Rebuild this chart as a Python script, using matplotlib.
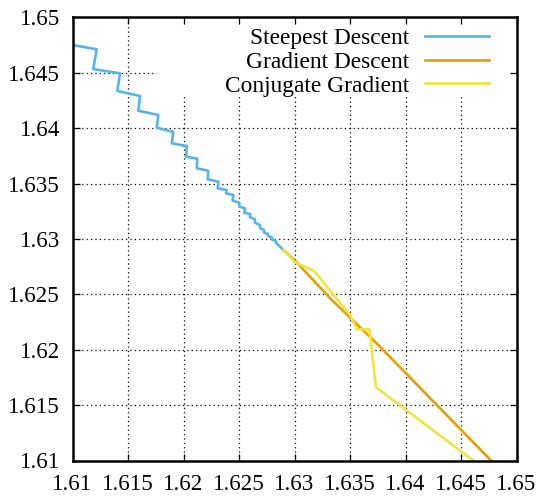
import numpy as np
import matplotlib
matplotlib.use("Agg")
import matplotlib.pyplot as plt
from matplotlib.patches import Rectangle

plt.rcParams['font.family'] = ['Liberation Serif', 'DejaVu Serif']

# tick values and labels (both axes share them)
ticks = [1.61, 1.615, 1.62, 1.625, 1.63, 1.635, 1.64, 1.645, 1.65]
tick_labels = ["1.61", "1.615", "1.62", "1.625", "1.63", "1.635", "1.64", "1.645", "1.65"]

# steepest descent path
sd_x = [1.6100, 1.61218, 1.61187, 1.61428, 1.61404, 1.61608, 1.61593, 1.61773,
        1.61759, 1.61908, 1.61894, 1.62029, 1.62023, 1.62124, 1.62119, 1.62223,
        1.62218, 1.62314, 1.62308, 1.62389, 1.62383, 1.62449, 1.62443, 1.62503,
        1.62503, 1.62554, 1.62548, 1.62599, 1.62599, 1.62644, 1.62644, 1.62689,
        1.62689, 1.62725, 1.62725, 1.62761, 1.62761, 1.62797, 1.62797, 1.62833,
        1.62833, 1.62869, 1.62905]
sd_y = [1.6475, 1.64711, 1.64533, 1.64494, 1.64335, 1.64290, 1.64157, 1.64118,
        1.64004, 1.63965, 1.63863, 1.63838, 1.63742, 1.63724, 1.63637, 1.63615,
        1.63538, 1.63516, 1.63457, 1.63441, 1.63411, 1.63396, 1.63345, 1.63327,
        1.63291, 1.63276, 1.63236, 1.63225, 1.63195, 1.63177, 1.63146, 1.63125,
        1.63096, 1.63080, 1.63058, 1.63044, 1.63026, 1.63013, 1.62995, 1.62981,
        1.62963, 1.62931, 1.62895]

# gradient descent path
gd_x = [1.62899, 1.63010, 1.63325, 1.63755, 1.6478]
gd_y = [1.62900, 1.62798, 1.62460, 1.62042, 1.6099]

# conjugate gradient path
cg_x = [1.62899, 1.63004, 1.63178, 1.63500, 1.63560, 1.63674, 1.63734, 1.64622]
cg_y = [1.62900, 1.62789, 1.62710, 1.62313, 1.62184, 1.62184, 1.61661, 1.60991]

fig = plt.figure(figsize=(5.42, 4.96), dpi=100)
ax = fig.add_axes([72.5/542, 35.5/496, 444/542, 443.2/496])

# dotted grid, drawn by hand so the key box can hide it
for t in ticks[1:-1]:
    ax.axvline(t, color="black", lw=0.9, ls=(0, (1, 2.5)), zorder=0.5)
    ax.axhline(t, color="black", lw=0.9, ls=(0, (1, 2.5)), zorder=0.5)

# white box behind the key
ax.add_patch(Rectangle((0.19, 0.822), 0.81, 0.178, transform=ax.transAxes,
                       facecolor="white", edgecolor="none", zorder=0.8))

ax.plot(sd_x, sd_y, color="#56b4e9", lw=1.9, label="Steepest Descent", zorder=2)
ax.plot(gd_x, gd_y, color="#e69f00", lw=1.9, label="Gradient Descent", zorder=2)
ax.plot(cg_x, cg_y, color="#f0e442", lw=1.9, label="Conjugate Gradient", zorder=2)

ax.set_xlim(1.61, 1.65)
ax.set_ylim(1.61, 1.65)
ax.set_xticks(ticks)
ax.set_xticklabels(tick_labels)
ax.set_yticks(ticks)
ax.set_yticklabels(tick_labels)
ax.tick_params(direction="in", top=True, right=True, length=5, width=0.9,
               labelsize=16.6, pad=10)
ax.tick_params(axis="y", pad=9)
ax.set_axisbelow(False)
for s in ax.spines.values():
    s.set_linewidth(1.8)

ax.legend(loc="upper right", bbox_to_anchor=(0.938, 0.976), frameon=False,
          markerfirst=False, fontsize=16.8, handlelength=2.75, handletextpad=0.68,
          labelspacing=0.1, borderpad=0, borderaxespad=0)

plt.savefig("out.png", dpi=100)
